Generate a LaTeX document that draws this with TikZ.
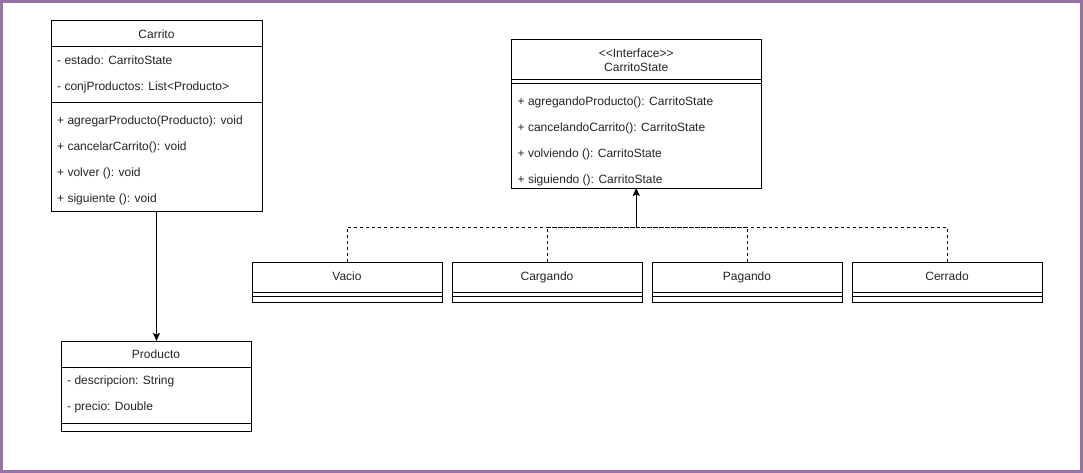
\documentclass[tikz,border=0pt]{standalone}
\usepackage{fontspec}
\newfontfamily\umlfont{Liberation Sans}
\usetikzlibrary{positioning,calc,arrows.meta}
\definecolor{framepurple}{RGB}{150,115,166}
\definecolor{umltext}{RGB}{35,35,35}
\tikzset{umlbox/.style={draw, line width=1pt, minimum width=#1, inner sep=0pt, outer sep=0pt, font=\umlfont\fontsize{12pt}{14pt}\selectfont, text=umltext}}
\tikzset{umlrow/.style={anchor=west, inner sep=0pt, font=\umlfont\fontsize{12pt}{14pt}\selectfont, text=umltext, text height=8.6pt, text depth=2.4pt}}
\tikzset{realize/.style={draw, line width=1pt, dash pattern=on 3pt off 3pt}}
\tikzset{arr/.style={draw, line width=1pt, -{Stealth[length=8pt, width=7pt, inset=1.5pt]}}}

\begin{document}
\begin{tikzpicture}[x=1pt, y=1pt]
	\useasboundingbox (0,0) rectangle (1083,-473);
	\draw[framepurple, line width=3pt] (1.5,-1.5) rectangle (1081.5,-471.5);

	% Carrito
	\node[umlbox=211pt, minimum height=26pt] (carrito) at (156.5,-34) {Carrito};
	\node[umlbox=211pt, minimum height=56pt, below=0pt of carrito] (carritoAttr) {};
	\node[umlbox=211pt, minimum height=108pt, below=0pt of carritoAttr] (carritoOps) {};
	\foreach \txt [count=\i] in {{- estado: CarritoState}, {- conjProductos: List<Producto>}}
		\node[umlrow] at ($(carritoAttr.north west)+(6,{-14.5-26*(\i-1)})$) {\txt};
	\foreach \txt [count=\i] in {{+ agregarProducto(Producto): void}, {+ cancelarCarrito(): void},
			{+ volver (): void}, {+ siguiente (): void}}
		\node[umlrow] at ($(carritoOps.north west)+(6,{-18.5-26*(\i-1)})$) {\txt};

	% Producto
	\node[umlbox=190pt, minimum height=26pt] (producto) at (156,-354) {Producto};
	\node[umlbox=190pt, minimum height=56pt, below=0pt of producto] (productoAttr) {};
	\node[umlbox=190pt, minimum height=8pt, below=0pt of productoAttr] (productoOps) {};
	\foreach \txt [count=\i] in {{- descripcion: String}, {- precio: Double}}
		\node[umlrow] at ($(productoAttr.north west)+(6,{-14.5-26*(\i-1)})$) {\txt};

	\draw[arr] (carritoOps.south) -- (carritoOps.south |- producto.north);

	% CarritoState
	\node[umlbox=249.5pt, minimum height=40pt, align=center] (carritoState) at (636.25,-60)
		{<<Interface>>\\CarritoState};
	\node[umlbox=249.5pt, minimum height=4pt, below=0pt of carritoState] (stateAttr) {};
	\node[umlbox=249.5pt, minimum height=104pt, below=0pt of stateAttr] (stateOps) {};
	\foreach \txt [count=\i] in {{+ agregandoProducto(): CarritoState}, {+ cancelandoCarrito(): CarritoState},
			{+ volviendo (): CarritoState}, {+ siguiendo (): CarritoState}}
		\node[umlrow] at ($(stateOps.north west)+(6,{-18.2-26*(\i-1)})$) {\txt};

	\path (stateOps.south) ++(0,-39) coordinate (stateJoin);

	% estados
	\foreach \boxid/\cls [count=\k] in {vacio/Vacio, cargando/Cargando, pagando/Pagando, cerrado/Cerrado} {
		\node[umlbox=190pt, minimum height=30pt, text height=8.6pt, text depth=2.4pt] (\boxid)
			at ({347+200*(\k-1)},-277) {\cls};
		\node[umlbox=190pt, minimum height=4pt, below=0pt of \boxid] (\boxid-attr) {};
		\node[umlbox=190pt, minimum height=6pt, below=0pt of \boxid-attr] (\boxid-ops) {};
		\draw[realize] (\boxid.north) |- (stateJoin);
	}
	\draw[arr] (stateJoin) -- (stateOps.south);
\end{tikzpicture}
\end{document}
